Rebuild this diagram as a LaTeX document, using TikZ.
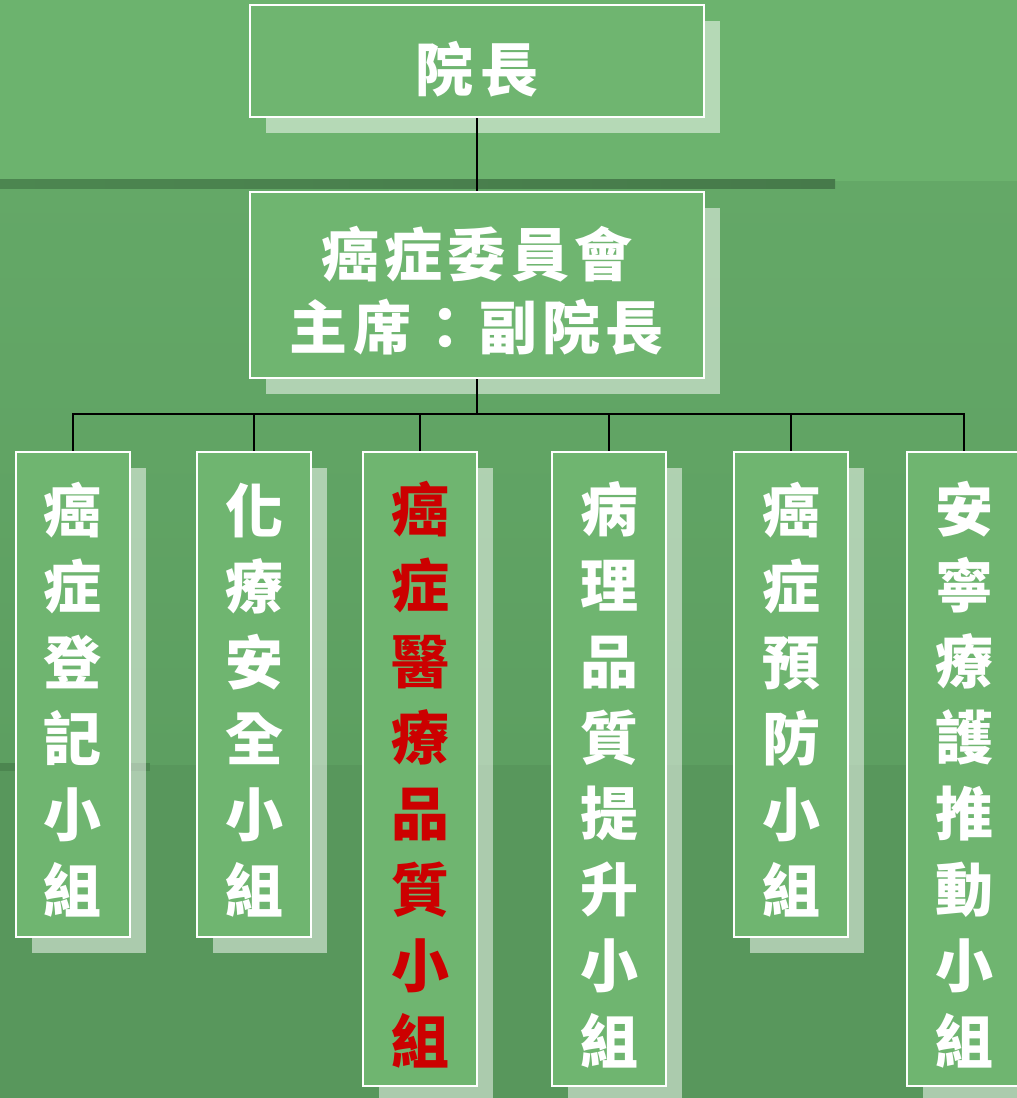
\documentclass[tikz,border=0pt]{standalone}
\usepackage{fontspec}
\newfontfamily\cjk{Noto Sans CJK TC}
\usetikzlibrary{shadows}
\definecolor{bgtop}{HTML}{6CB36E}
\definecolor{bgmidA}{HTML}{64A867}
\definecolor{bgmidB}{HTML}{5D9F61}
\definecolor{bgbot}{HTML}{58975C}
\definecolor{darkline}{HTML}{4C8650}
\definecolor{darklineB}{HTML}{467A4A}
\definecolor{boxfill}{HTML}{6FB570}
\definecolor{redtext}{HTML}{CC0000}
\newcommand{\mypad}[1]{\rule{0pt}{#1}}
\tikzset{
  orgbox/.style={draw=white, line width=1pt, fill=boxfill, inner sep=0pt, text=white, align=center,
    font=\cjk\bfseries\fontsize{29pt}{38pt}\selectfont,
    drop shadow={shadow xshift=8pt, shadow yshift=-8pt, fill=white, opacity=0.5}},
  shortbox/.style={orgbox, minimum width=57pt, minimum height=242.5pt},
  longbox/.style={orgbox, minimum width=57pt, minimum height=317pt},
  link/.style={draw=black, line width=1pt}
}
\begin{document}
\begin{tikzpicture}[x=0.5pt,y=-0.5pt]
\useasboundingbox (0,0) rectangle (1017,1098);
\clip (0,0) rectangle (1017,1098);
% background
\fill[bgtop] (0,0) rectangle (1017,181);
\shade[top color=bgmidA, bottom color=bgmidB] (0,181) rectangle (1017,765);
\fill[bgbot] (0,765) rectangle (1017,1098);
\shade[left color=darkline, right color=darklineB] (0,179) rectangle (835,188);
\fill[darkline] (0,763) rectangle (150,771);
% nodes
\node[orgbox, minimum width=227pt, minimum height=56pt, font=\cjk\bfseries\fontsize{29pt}{38pt}\selectfont\addfontfeature{LetterSpace=12}] (dean) at (477,61) {\mypad{33.5pt}院長};
\node[orgbox, minimum width=227pt, minimum height=93pt, font=\cjk\bfseries\fontsize{29pt}{36.5pt}\selectfont\addfontfeature{LetterSpace=9}] (comm) at (477,285) {\mypad{30.5pt}癌症委員會\\主席：副院長};
\node[shortbox] (c1) at (72.5,694.5) {\mypad{30.5pt}癌\\症\\登\\記\\小\\組};
\node[shortbox] (c2) at (254,694.5) {\mypad{30.5pt}化\\療\\安\\全\\小\\組};
\node[longbox, text=redtext] (c3) at (420,769) {\mypad{30.5pt}癌\\症\\醫\\療\\品\\質\\小\\組};
\node[longbox] (c4) at (609,769) {\mypad{30.5pt}病\\理\\品\\質\\提\\升\\小\\組};
\node[shortbox] (c5) at (791,694.5) {\mypad{30.5pt}癌\\症\\預\\防\\小\\組};
\node[longbox] (c6) at (964,769) {\mypad{30.5pt}安\\寧\\療\\護\\推\\動\\小\\組};
% connectors
\coordinate (bus) at (477,414);
\draw[link] (dean.south) -- (comm.north);
\draw[link] (comm.south) -- (bus);
\foreach \c in {c1,c2,c3,c4,c5,c6} {
  \draw[link] (bus) -| (\c.north);
}
\end{tikzpicture}
\end{document}
